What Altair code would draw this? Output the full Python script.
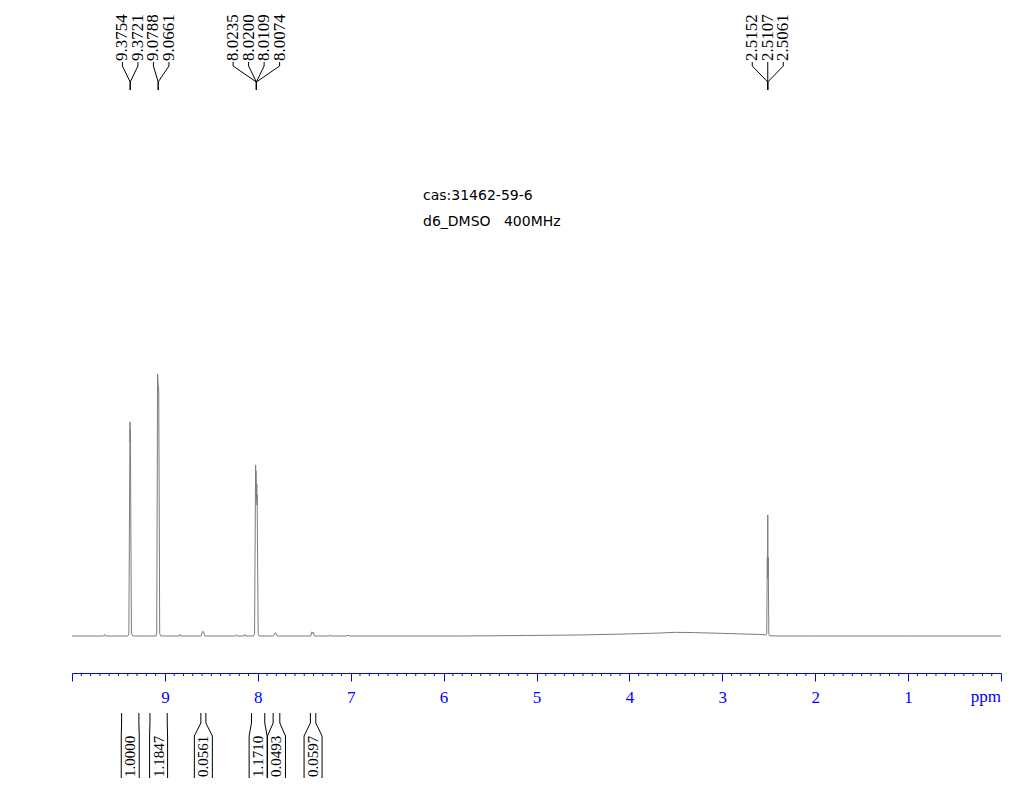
import altair as alt
import pandas as pd

# ---------------- data ----------------
spec_ppm = [10.00, 9.70, 9.66, 9.65, 9.64, 9.40, 9.388, 9.3754, 9.3737, 9.3721, 9.360, 9.345,
            9.20, 9.095, 9.088, 9.0788, 9.0725, 9.0661, 9.056, 9.045, 8.85, 8.84, 8.83,
            8.61, 8.595, 8.585, 8.57, 8.24, 8.23, 8.22, 8.15, 8.14, 8.13, 8.045, 8.035,
            8.0235, 8.0218, 8.0200, 8.0155, 8.0109, 8.0092, 8.0074, 7.996, 7.985,
            7.83, 7.815, 7.805, 7.79, 7.43, 7.418, 7.410, 7.402, 7.39, 7.23, 7.22, 7.21,
            7.04, 7.03, 7.02, 5.80, 5.10, 4.50, 4.00, 3.70, 3.50, 3.30, 3.00, 2.80, 2.60,
            2.53, 2.522, 2.5152, 2.5130, 2.5107, 2.5084, 2.5061, 2.499, 2.490, 2.40, 2.00,
            1.00, 0.00]
spec_int = [0, 0, 0, 0.6, 0, 0, 0.8, 81.7, 74, 79, 0.8, 0,
            0, 0, 1.0, 100, 96, 93, 1.0, 0, 0, 0.6, 0,
            0, 1.8, 1.6, 0, 0, 0.5, 0, 0, 0.6, 0, 0, 1.0,
            65.3, 58, 63, 52, 58, 50, 54, 1.0, 0,
            0, 1.2, 1.0, 0, 0, 1.6, 1.0, 1.4, 0, 0, 0.4, 0,
            0, 0.4, 0, 0, 0.2, 0.4, 0.8, 1.1, 1.4, 1.3, 1.0, 0.8, 0.6,
            0.4, 0.8, 30, 22, 46.2, 22, 30, 0.8, 0.1, 0, 0,
            0, 0]

peak_labels = ["9.3754", "9.3721", "9.0788", "9.0661",
               "8.0235", "8.0200", "8.0109", "8.0074",
               "2.5152", "2.5107", "2.5061"]
peak_group = [0, 0, 1, 1, 2, 2, 2, 2, 3, 3, 3]

int_values = ["1.0000", "1.1847", "0.0561", "1.1710", "0.0493", "0.0597"]
int_from = [9.466, 9.161, 8.613, 8.068, 7.835, 7.434]
int_to = [9.280, 8.975, 8.559, 7.925, 7.763, 7.376]

title_lines = ["cas:31462-59-6", "d6_DMSO\u00a0\u00a0\u00a0400MHz"]
axis_ticks = list(range(0, 11))
axis_unit = "ppm"

# ---------------- layout ----------------
W, H = 929, 665
PX_PER_PPM = W / 10.0
BLUE = "#0000ff"
SERIF = "Liberation Serif"


def vy(page_y):
    # page pixel -> annotation scale units (0 at top of plot area)
    return page_y - 8


spec_df = pd.DataFrame({"ppm": spec_ppm, "intensity": spec_int})

xscale = alt.Scale(domain=[0, 10], reverse=True, nice=False, zero=False)
xaxis = alt.Axis(values=axis_ticks, title=None, grid=False, format="d",
                 domainColor=BLUE, tickColor=BLUE, tickSize=8, tickWidth=1,
                 domainWidth=1, labelColor=BLUE, labelFont=SERIF, labelFontSize=17,
                 labelPadding=8, labelFlush=False, labelOverlap=False,
                 labelExpr="(datum.value == 0 || datum.value == 10) ? '' : datum.label")


def X(field="ppm"):
    return alt.X(f"{field}:Q", scale=xscale, axis=xaxis)


pix_scale = alt.Scale(domain=[0, H], reverse=True, nice=False, zero=False)

# spectrum scale: baseline at page y 636, 100 units = 262 px
unit_px = 2.62
base_plot_y = 636 - 8
spec_scale = alt.Scale(domain=[-(H - base_plot_y) / unit_px, base_plot_y / unit_px],
                       nice=False, zero=False)

spectrum = alt.Chart(spec_df).mark_line(color="#7c7c7c", strokeWidth=1).encode(
    x=X(),
    y=alt.Y("intensity:Q", scale=spec_scale, axis=None),
)

# minor ticks every 0.1 ppm
minor_df = pd.DataFrame({"ppm": [i / 10 for i in range(101) if i % 10 != 0]})
minor = alt.Chart(minor_df).mark_rule(color=BLUE, strokeWidth=1).encode(
    x=X(), y=alt.value(H), y2=alt.value(H + 3)
)

# peak label positions: centred on each group, spread, then pushed apart
gap = 15.5 / PX_PER_PPM
centers = {}
for g in sorted(set(peak_group)):
    vals = [float(v) for v, gg in zip(peak_labels, peak_group) if gg == g]
    centers[g] = sum(vals) / len(vals)
desired = []
for g in sorted(set(peak_group)):
    n = peak_group.count(g)
    for k in range(n):
        desired.append(centers[g] + gap * ((n - 1) / 2 - k))
label_pos = []
prev = None
for d in desired:
    p = d if prev is None else min(d, prev - gap)
    label_pos.append(p)
    prev = p

lab_df = pd.DataFrame({"ppm": label_pos, "label": peak_labels})
peak_text = alt.Chart(lab_df).mark_text(
    angle=270, align="left", baseline="middle", font=SERIF, fontSize=17, color="black"
).encode(x=X(), y=alt.value(vy(61)), text="label:N")

conn_rows = []
for i, (lp, g) in enumerate(zip(label_pos, peak_group)):
    cx = centers[g]
    for k, (px, py) in enumerate([(lp, 62), (lp, 66), (cx, 82), (cx, 90)]):
        conn_rows.append({"id": i, "k": k, "ppm": px, "v": vy(py)})
conn = alt.Chart(pd.DataFrame(conn_rows)).mark_line(color="black", strokeWidth=1).encode(
    x=X(), y=alt.Y("v:Q", scale=pix_scale, axis=None), detail="id:N", order="k:Q"
)

# integral brackets
half_min = 9 / PX_PER_PPM
br_rows = []
int_center = []
for j, (a, b) in enumerate(zip(int_from, int_to)):
    c = (a + b) / 2
    int_center.append(c)
    half = max((a - b) / 2, half_min)
    for side, (top, bot) in enumerate([(a, c + half), (b, c - half)]):
        for k, (px, py) in enumerate([(top, 713), (top, 723), (bot, 736), (bot, 778)]):
            br_rows.append({"id": f"{j}_{side}", "k": k, "ppm": px, "v": vy(py)})
brackets = alt.Chart(pd.DataFrame(br_rows)).mark_line(color="black", strokeWidth=1).encode(
    x=X(), y=alt.Y("v:Q", scale=pix_scale, axis=None), detail="id:N", order="k:Q"
)
int_df = pd.DataFrame({"ppm": int_center, "label": int_values})
int_text = alt.Chart(int_df).mark_text(
    angle=270, align="left", baseline="middle", font=SERIF, fontSize=15, color="black"
).encode(x=X(), y=alt.value(vy(777)), text="label:N")

# title lines
title_df = pd.DataFrame({"t": title_lines, "v": [vy(196), vy(222)]})
title = alt.Chart(title_df).mark_text(
    align="left", baseline="middle", font="DejaVu Sans", fontSize=14, color="black"
).encode(x=alt.value(423 - 72), y=alt.Y("v:Q", scale=pix_scale, axis=None), text="t:N")

unit_df = pd.DataFrame({"ppm": [0], "t": [axis_unit]})
unit = alt.Chart(unit_df).mark_text(
    align="right", baseline="top", font=SERIF, fontSize=17, color=BLUE
).encode(x=X(), y=alt.value(vy(689)), text="t:N")

chart = alt.layer(spectrum, minor, peak_text, conn, brackets, int_text, title, unit).resolve_scale(
    y="independent"
).properties(
    width=W, height=H, autosize="none",
    padding={"left": 64, "top": 0, "right": 10, "bottom": 115},
    background="white",
).configure_view(strokeWidth=0)

chart.save("out.html", embed_options={"renderer": "svg", "actions": False})
